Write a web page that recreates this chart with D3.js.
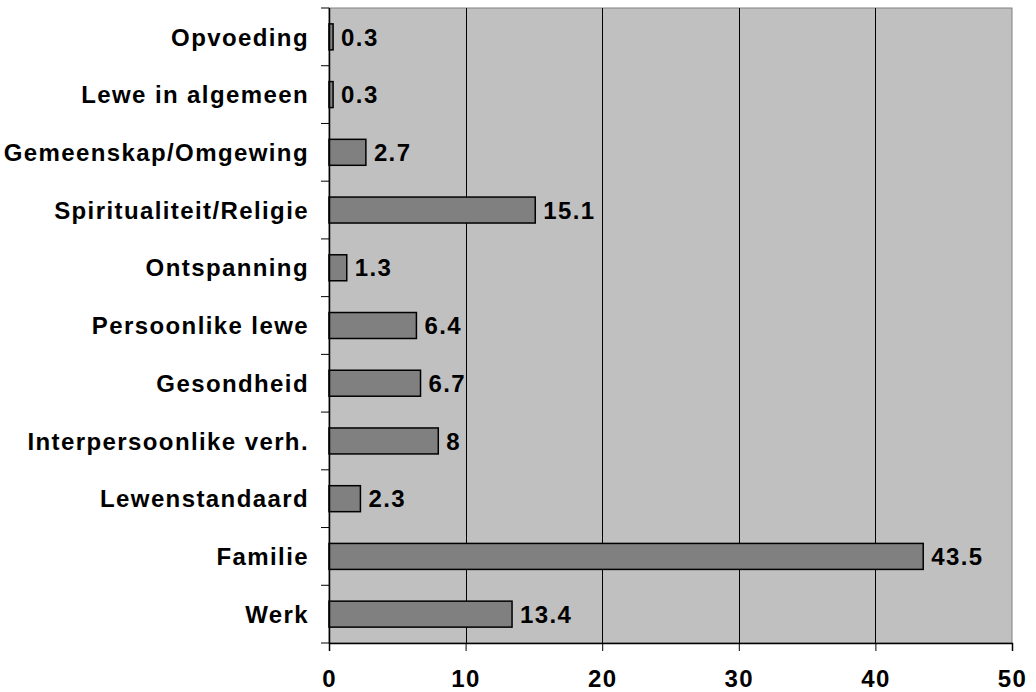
<!DOCTYPE html>
<html>
<head>
<meta charset="utf-8">
<script src="https://cdn.jsdelivr.net/npm/d3@7"></script>
<style>
  body { margin: 0; background: #fff; }
  svg text { font-family: Arial, "Liberation Sans", sans-serif; font-weight: bold; fill: #000; }
</style>
</head>
<body>
<svg id="chart" width="1036" height="692"></svg>
<script>
var categories = ['Opvoeding', 'Lewe in algemeen', 'Gemeenskap/Omgewing', 'Spiritualiteit/Religie',
	'Ontspanning', 'Persoonlike lewe', 'Gesondheid', 'Interpersoonlike verh.',
	'Lewenstandaard', 'Familie', 'Werk'];
var values = [0.3, 0.3, 2.7, 15.1, 1.3, 6.4, 6.7, 8, 2.3, 43.5, 13.4];
var valueLabels = ['0.3', '0.3', '2.7', '15.1', '1.3', '6.4', '6.7', '8', '2.3', '43.5', '13.4'];
var xTicks = [0, 10, 20, 30, 40, 50];

var width = 1036, height = 692;
var margin = { top: 8, right: 24, bottom: 49, left: 329 };
var plotW = width - margin.left - margin.right;
var plotH = height - margin.top - margin.bottom;
var fontSize = '24px', spacing = '1.4px';

var svg = d3.select('#chart');
var g = svg.append('g').attr('transform', 'translate(' + margin.left + ',' + margin.top + ')');

var x = d3.scaleLinear().domain([0, 50]).range([0, plotW]);
var y = d3.scaleBand().domain(categories).range([0, plotH]).paddingInner(0.55).paddingOuter(0.275);

// plot background
g.append('rect')
	.attr('width', plotW).attr('height', plotH)
	.attr('fill', '#c0c0c0').attr('stroke', '#808080').attr('stroke-width', 1);

// gridlines
g.selectAll('line.grid').data(xTicks.slice(1, -1)).enter().append('line')
	.attr('class', 'grid')
	.attr('x1', function(d) { return Math.round(x(d)) + 0.5; })
	.attr('x2', function(d) { return Math.round(x(d)) + 0.5; })
	.attr('y1', 0).attr('y2', plotH)
	.attr('stroke', '#000').attr('stroke-width', 1);

// bars
g.selectAll('rect.bar').data(values).enter().append('rect')
	.attr('class', 'bar')
	.attr('x', 0)
	.attr('y', function(d, i) { return y(categories[i]); })
	.attr('width', function(d) { return x(d); })
	.attr('height', y.bandwidth())
	.attr('fill', '#808080').attr('stroke', '#000').attr('stroke-width', 1.5);

// value labels
g.selectAll('text.val').data(values).enter().append('text')
	.attr('class', 'val')
	.attr('x', function(d) { return x(d) + 8; })
	.attr('y', function(d, i) { return y(categories[i]) + y.bandwidth() / 2; })
	.attr('dy', '0.36em')
	.style('font-size', fontSize).style('letter-spacing', spacing)
	.text(function(d, i) { return valueLabels[i]; });

// y axis: ticks at band boundaries
var step = plotH / categories.length;
var yAxis = g.append('g');
yAxis.append('line').attr('x1', 0.5).attr('x2', 0.5).attr('y1', 0).attr('y2', plotH)
	.attr('stroke', '#000').attr('stroke-width', 1.5);
yAxis.selectAll('line.tick').data(d3.range(categories.length + 1)).enter().append('line')
	.attr('class', 'tick')
	.attr('x1', -8).attr('x2', 0)
	.attr('y1', function(i) { return i * step; }).attr('y2', function(i) { return i * step; })
	.attr('stroke', '#000').attr('stroke-width', 1);
yAxis.selectAll('text').data(categories).enter().append('text')
	.attr('x', -20)
	.attr('y', function(d) { return y(d) + y.bandwidth() / 2; })
	.attr('dy', '0.36em')
	.attr('text-anchor', 'end')
	.style('font-size', fontSize).style('letter-spacing', spacing)
	.text(function(d) { return d; });

// x axis
var xAxis = d3.axisBottom(x).tickValues(xTicks).tickSize(8).tickPadding(19).tickFormat(d3.format('d'));
var xg = g.append('g').attr('transform', 'translate(0,' + plotH + ')').call(xAxis);
xg.select('.domain').attr('stroke', '#000').attr('stroke-width', 1.5);
xg.selectAll('.tick line').attr('stroke', '#000');
xg.selectAll('.tick text').style('font-size', fontSize).style('letter-spacing', spacing)
	.style('font-family', 'Arial, "Liberation Sans", sans-serif').style('font-weight', 'bold');
</script>
</body>
</html>
